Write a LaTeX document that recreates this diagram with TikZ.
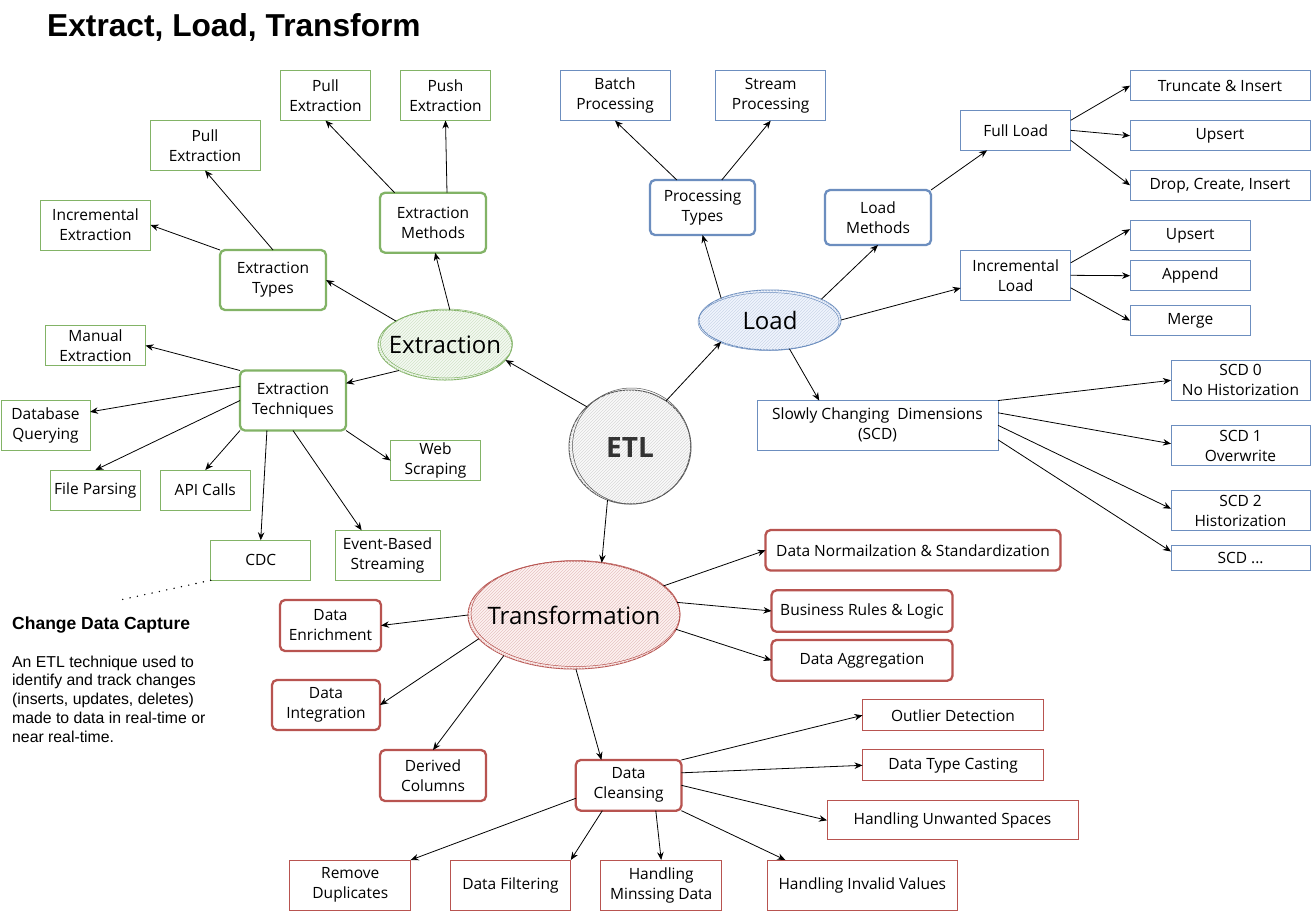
\documentclass[tikz,border=0pt]{standalone}
\usepackage{fontspec}
\setmainfont{Open Sans}
\newfontfamily\arialf{Liberation Sans}
\usetikzlibrary{arrows.meta,patterns,shapes.geometric}
\definecolor{gS}{HTML}{82B366}
\definecolor{bS}{HTML}{6C8EBF}
\definecolor{rS}{HTML}{B85450}
\definecolor{kS}{HTML}{555555}
\definecolor{gF}{HTML}{F4F9F2}
\definecolor{bF}{HTML}{F0F5FD}
\definecolor{rF}{HTML}{FDF2F1}
\definecolor{kF}{HTML}{FAFAFA}
\tikzset{
  box/.style={draw, line width=1pt, align=center, inner sep=1pt, outer sep=0pt,
    font=\fontsize{15.5}{20}\selectfont},
  leafG/.style={box, draw=gS},
  leafB/.style={box, draw=bS},
  leafR/.style={box, draw=rS},
  catG/.style={box, draw=gS, line width=2.3pt, rounded corners=5pt},
  catB/.style={box, draw=bS, line width=2.3pt, rounded corners=5pt},
  catR/.style={box, draw=rS, line width=2.3pt, rounded corners=5pt},
  ell/.style={ellipse, draw, line width=1pt, inner sep=0pt, outer sep=0pt},
  elltext/.style={font=\fontsize{24}{28}\selectfont, inner sep=0pt},
  arr/.style={-{Stealth[length=8pt,width=6.5pt]}, line width=0.8pt, black},
}
\begin{document}
\begin{tikzpicture}[x=1pt,y={(0pt,-1pt)}]
\useasboundingbox (0,0) rectangle (1311,911);
\fill[white] (0,0) rectangle (1311,911);

% title
\node[anchor=base west, inner sep=0pt, font=\arialf\bfseries\fontsize{31.7}{36}\selectfont] (title) at (47,36) {Extract, Load, Transform};

% ---------- central ellipses ----------
\node[ell, draw=kS, fill=kF, postaction={pattern=north east lines, pattern color=black!15},
  minimum width=122pt, minimum height=114pt,
  label={[elltext, font=\bfseries\fontsize{28}{32}\selectfont, text=black!80]center:ETL}] (etl) at (630,447) {};
\draw[kS, line width=0.5pt] (631.5,446) ellipse [x radius=59, y radius=58];

\node[ell, draw=gS, fill=gF, postaction={pattern=north east lines, pattern color=gS!35},
  minimum width=134pt, minimum height=70pt, label={[elltext]center:Extraction}] (ext) at (445,345) {};
\draw[gS, line width=0.5pt] (446.5,343.5) ellipse [x radius=66, y radius=34.5];

\node[ell, draw=bS, fill=bF, postaction={pattern=north east lines, pattern color=bS!35},
  minimum width=142pt, minimum height=60pt, label={[elltext]center:Load}] (load) at (770,320) {};
\draw[bS, line width=0.5pt] (768.5,321.5) ellipse [x radius=70.5, y radius=29];

\node[ell, draw=rS, fill=rF, postaction={pattern=north east lines, pattern color=rS!35},
  minimum width=212pt, minimum height=108pt, label={[elltext]center:Transformation}] (trans) at (574,615) {};
\draw[rS, line width=0.5pt] (575.5,613.5) ellipse [x radius=104.5, y radius=53];

% ---------- Extraction branch ----------
\node[catG, minimum width=106pt, minimum height=60pt] (etypes) at (273,280) {Extraction\\Types};
\node[catG, minimum width=106pt, minimum height=60pt] (emeth) at (433,222.7) {Extraction\\Methods};
\node[catG, minimum width=106pt, minimum height=60pt] (etech) at (293,400.5) {Extraction\\Techniques};

\node[leafG, minimum width=90pt, minimum height=50pt] (pullA) at (325.5,95.5) {Pull\\Extraction};
\node[leafG, minimum width=90pt, minimum height=50pt] (pushA) at (445.5,95.5) {Push\\Extraction};
\node[leafG, minimum width=110pt, minimum height=50pt] (pullB) at (205,145.5) {Pull\\Extraction};
\node[leafG, minimum width=110pt, minimum height=50pt] (incr) at (95.5,225) {Incremental\\Extraction};
\node[leafG, minimum width=100pt, minimum height=40pt] (manual) at (95.5,345.5) {Manual\\Extraction};
\node[leafG, minimum width=89pt, minimum height=50pt] (dbq) at (45.5,425.5) {Database\\Querying};
\node[leafG, minimum width=90pt, minimum height=40pt] (fileP) at (95.3,490) {File Parsing};
\node[leafG, minimum width=90pt, minimum height=40pt] (api) at (205.3,490) {API Calls};
\node[leafG, minimum width=100pt, minimum height=40pt] (cdc) at (260.7,560.3) {CDC};
\node[leafG, minimum width=105pt, minimum height=50pt] (event) at (387.5,555.3) {Event-Based\\Streaming};
\node[leafG, minimum width=90pt, minimum height=40pt] (web) at (435.5,460.5) {Web\\Scraping};

% ---------- Load branch ----------
\node[catB, minimum width=105pt, minimum height=55pt] (proc) at (702.5,207.5) {Processing\\Types};
\node[catB, minimum width=106pt, minimum height=55pt] (lmeth) at (878,217.5) {Load\\Methods};

\node[leafB, minimum width=110pt, minimum height=50pt] (batch) at (615,95.7) {Batch\\Processing};
\node[leafB, minimum width=110pt, minimum height=50pt] (stream) at (770.7,95.7) {Stream\\Processing};
\node[leafB, minimum width=110pt, minimum height=40pt] (full) at (1015.7,130.3) {Full Load};
\node[leafB, minimum width=180pt, minimum height=30pt] (trunc) at (1220,85.7) {Truncate \& Insert};
\node[leafB, minimum width=180pt, minimum height=30pt] (ups1) at (1220,135.7) {Upsert};
\node[leafB, minimum width=180pt, minimum height=30pt] (drop) at (1220,185.3) {Drop, Create, Insert};
\node[leafB, minimum width=110pt, minimum height=50pt] (incl) at (1015.7,275.3) {Incremental\\Load};
\node[leafB, minimum width=120.5pt, minimum height=30pt] (ups2) at (1190.3,235.7) {Upsert};
\node[leafB, minimum width=120.5pt, minimum height=30pt] (app) at (1190.3,275.7) {Append};
\node[leafB, minimum width=120.5pt, minimum height=30pt] (mrg) at (1190.3,320.7) {Merge};
\node[leafB, minimum width=241pt, minimum height=49.5pt] (scd) at (877.5,425.3) {Slowly Changing\ \ Dimensions\\(SCD)};
\node[leafB, minimum width=139pt, minimum height=40pt] (scd0) at (1240.5,380.3) {SCD 0\\No Historization};
\node[leafB, minimum width=139pt, minimum height=40pt] (scd1) at (1240.5,445.7) {SCD 1\\Overwrite};
\node[leafB, minimum width=139pt, minimum height=40pt] (scd2) at (1240.5,510.7) {SCD 2\\Historization};
\node[leafB, minimum width=139pt, minimum height=25pt] (scdd) at (1240.5,557.5) {SCD ...};

% ---------- Transformation branch ----------
\node[catR, minimum width=295pt, minimum height=40.5pt] (norm) at (913,550.3) {Data Normailzation \& Standardization};
\node[catR, minimum width=181pt, minimum height=41.5pt] (bus) at (862,611) {Business Rules \& Logic};
\node[catR, minimum width=181pt, minimum height=40.7pt] (agg) at (862,660.3) {Data Aggregation};
\node[catR, minimum width=101pt, minimum height=51pt] (enr) at (330.5,625.5) {Data\\Enrichment};
\node[catR, minimum width=108pt, minimum height=50pt] (integ) at (326,705) {Data\\Integration};
\node[catR, minimum width=106pt, minimum height=51pt] (der) at (433,775.5) {Derived\\Columns};
\node[catR, minimum width=105.6pt, minimum height=50.7pt] (cln) at (628.6,785.3) {Data\\Cleansing};

\node[leafR, minimum width=181pt, minimum height=30.7pt] (out) at (953,715.3) {Outlier Detection};
\node[leafR, minimum width=181pt, minimum height=30.7pt] (tc) at (953,765.3) {Data Type Casting};
\node[leafR, minimum width=251pt, minimum height=39.3pt] (uw) at (952.5,820.3) {Handling Unwanted Spaces};
\node[leafR, minimum width=120.7pt, minimum height=50pt] (rem) at (350.3,885) {Remove\\Duplicates};
\node[leafR, minimum width=120.8pt, minimum height=50pt] (filt) at (510.4,885) {Data Filtering};
\node[leafR, minimum width=120.5pt, minimum height=50pt] (miss) at (661.2,885) {Handling\\Minssing Data};
\node[leafR, minimum width=190.6pt, minimum height=50pt] (inv) at (862.3,885) {Handling Invalid Values};

% ---------- CDC note ----------
\coordinate (cdcnote) at (120,600);
\draw[line width=1.6pt, dash pattern=on 0pt off 7.5pt, line cap=round] (cdc.south west) -- (cdcnote);
\node[anchor=base west, inner sep=0pt, font=\arialf\bfseries\fontsize{17.5}{20}\selectfont] (cdctitle) at (12,629) {Change Data Capture};
\node[anchor=north west, inner sep=0pt, align=left, font=\arialf\fontsize{15.8}{18.8}\selectfont] (cdctext) at (12,655.5)
  {An ETL technique used to\\identify and track changes\\(inserts, updates, deletes)\\made to data in real-time or\\near real-time.};

% ---------- connectors ----------
\draw[arr] (etl.137) -- (ext.-14);
\draw[arr] (etl.52) -- (load.-156);
\draw[arr] (etl.-113) -- (trans.62);

\draw[arr] (ext.154) -- (etypes.east);
\draw[arr] (ext.82) -- (emeth.-86);
\draw[arr] (ext.-151) -- (etech.18);
\draw[arr] (etypes.north) -- (pullB.south);
\draw[arr] (etypes.north west) -- (incr.east);
\draw[arr] (emeth.142) -- (pullA.south);
\draw[arr] (emeth.65) -- (pushA.south);
\draw[arr] (etech.north west) -- (manual.east);
\draw[arr] (etech.165) -- (dbq.17);
\draw[arr] (etech.west) -- (fileP.north);
\draw[arr] (etech.south west) -- (api.north);
\draw[arr] (etech.-131) -- (cdc.north);
\draw[arr] (etech.south) -- (event.136);
\draw[arr] (etech.south east) -- (web.west);

\draw[arr] (load.156) -- (proc.south);
\draw[arr] (load.22) -- (lmeth.south);
\draw[arr] (load.east) -- (incl.-167);
\draw[arr] (load.-56) -- (scd.157.7);
\draw[arr] (proc.133) -- (batch.south);
\draw[arr] (proc.55) -- (stream.south);
\draw[arr] (lmeth.north east) -- (full.-145);
\draw[arr] ([yshift=10pt]full.east) -- (trunc.west);
\draw[arr] (full.east) -- (ups1.west);
\draw[arr] ([yshift=-10pt]full.east) -- (drop.west);
\draw[arr] ([yshift=12.5pt]incl.east) -- ([yshift=6.5pt]ups2.west);
\draw[arr] (incl.east) -- (app.west);
\draw[arr] ([yshift=-12.5pt]incl.east) -- (mrg.west);
\draw[arr] (scd.north east) -- (scd0.west);
\draw[arr] ([yshift=12.5pt]scd.east) -- ([yshift=2pt]scd1.west);
\draw[arr] (scd.east) -- ([yshift=2pt]scd2.west);
\draw[arr] ([yshift=-14.5pt]scd.east) -- ([yshift=6pt]scdd.west);

\draw[arr] (trans.18) -- (norm.west);
\draw[arr] (trans.7) -- (bus.west);
\draw[arr] (trans.-8.4) -- (agg.west);
\draw[arr] (trans.west) -- (enr.east);
\draw[arr] (trans.-166.5) -- (integ.east);
\draw[arr] (trans.-150) -- (der.north);
\draw[arr] (trans.-88) -- (cln.137.5);
\draw[arr] (cln.north east) -- (out.west);
\draw[arr] ([yshift=12.5pt]cln.east) -- (tc.west);
\draw[arr] (cln.east) -- (uw.west);
\draw[arr] (cln.south east) -- (inv.162.5);
\draw[arr] (cln.-43) -- (miss.north);
\draw[arr] (cln.-136.3) -- (filt.north east);
\draw[arr] ([yshift=-13pt]cln.west) -- (rem.north east);
\end{tikzpicture}
\end{document}
